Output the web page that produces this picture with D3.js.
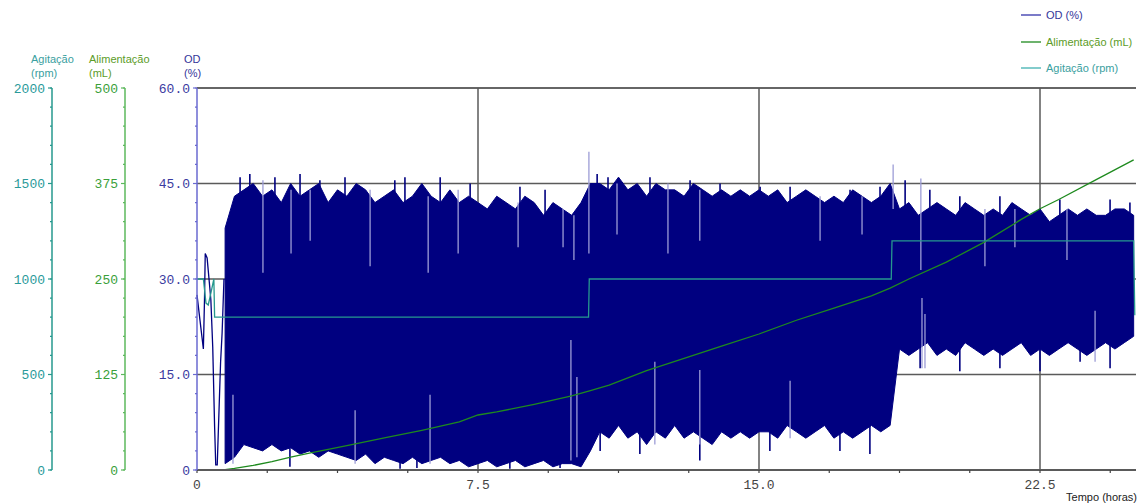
<!DOCTYPE html>
<html><head><meta charset="utf-8">
<script src="https://cdn.jsdelivr.net/npm/d3@7"></script>
<style>html,body{margin:0;padding:0;background:#fff;overflow:hidden}</style>
</head><body>
<svg id="c" width="1141" height="503"></svg>
<script>
// ---------- DATA ----------
// Time ticks (horas)
const timeTicks = [0, 7.5, 15, 22.5];
const timeTickLabels = ["0", "7.5", "15.0", "22.5"];
const odTicks = [0, 15, 30, 45, 60];
const odTickLabels = ["0", "15.0", "30.0", "45.0", "60.0"];
const agitTicks = [0, 500, 1000, 1500, 2000];
const feedTicks = [0, 125, 250, 375, 500];

// OD (%) start-up transient
const odStartTimes  = [0, 0.08, 0.17, 0.2, 0.22, 0.27, 0.33, 0.37, 0.42, 0.47, 0.5, 0.54, 0.63, 0.67, 0.72];
const odStartValues = [27.5, 23.5, 19, 26.7, 34, 33.3, 29.4, 26.7, 19.3, 6.8, 0.8, 0.8, 17, 21.5, 30];

// OD (%) oscillation envelope, sampled every 0.25 h from 0.75 h to 25 h
const odEnvStart = 0.75, odEnvStep = 0.25;
const odHigh = [38, 43,
  44,45,43,44,42,45,43,44,45,42,44,43,45,44,42,43,44,42,43,45,43,42,44,42,43,42,41,43,42,41,43,42,40,42,41,40,42,45,
  45,44,46,44,45,43,45,44,44,43,45,44,43,44,43,44,43,44,
  43,44,42,43,44,43,42,43,42,44,43,42,43,45,
  41,42,40,41,42,41,40,42,41,40,41,40,42,41,40,41,39,40,41,40,41,40,40,41,41,40];
const odLow = [1, 2,
  4,3.5,3,4,3,3.5,2.5,3,2,3,2.5,2,1.5,2.5,1,2,1.5,1,2,1,1.5,2,1,1.5,0.5,1,1.5,0.5,1,1.5,0.5,1,1.5,0.5,1,1,0.5,3,
  6,5,7,5,6,4,6,5,7,5,6,5,4,6,5,6,5,6,
  6,5,7,6,5,6,7,5,6,5,6,7,6,7,
  19,18,19,20,18,19,18,20,19,18,19,18,19,20,18,19,18,19,20,19,18,19,20,19,20,21];
// Highest / lowest individual OD excursions: [time, value]
const odPeaksTop = [[1.15,46],[1.41,46.5],[2.08,46],[2.75,46.5],[3.28,45.5],[3.95,46],[5.28,45.5],[5.55,46],
  [6.49,46],[7.29,45],[8.62,44.5],[9.29,44],[10.68,46.5],[10.97,46],[12.09,46],[13.16,45.5],[13.96,45],
  [15.03,44.5],[15.83,44.5],[17.43,44],[18.23,44.5],[18.9,45.5],[19.56,44],[20.36,43],[21.43,43],
  [23.03,42.5],[24.37,42.5],[24.9,42]];
const odPeaksBottom = [[2.48,0.5],[5.42,0.2],[5.87,0.3],[8.35,0.2],[9.69,0.3],[10.76,3],[11.82,2.5],
  [13.42,1.5],[15.29,3],[17.16,3],[17.96,2.5],[19.3,16],[20.36,15.5],[21.43,16],[22.5,15.5],[23.57,17],[24.37,16]];
// Light spikes / gaps in the OD trace: [time, low, high]
const odSpikes = [
  [1.76,31,45.5],[2.51,34,44],[3.02,36,44],[4.62,32,44],[6.17,31,43],[6.97,34,44],[8.57,35,42],
  [9.77,35,41],[10.06,33,40],[10.46,34,50],[11.21,37,45],[12.57,34,45],[13.42,36,44],[16.63,36,43],
  [17.75,37,43],[18.58,41,48],[19.32,31.4,45.8],[21.03,32,41],[21.83,35,41],[23.22,33,41],
  [0.96,1,11.8],[4.22,1,9.4],[6.22,1,11.8],[9.98,1.5,20.4],[10.14,2,14.6],[12.22,4,17],
  [13.42,4,15.7],[15.83,5,14],[19.35,16,27],[19.43,16,24.5],[23.97,17,25]];

// Alimentação (mL)
const feedTimes  = [0, 0.7, 1, 1.5, 2, 2.5, 3, 3.5, 4, 5, 6, 7, 7.5, 8, 9, 10, 10.5, 11, 12, 13, 14, 15, 16, 17, 18, 18.5, 19, 20, 21, 22, 22.5, 23, 24, 25];
const feedValues = [0, 0, 2, 6, 11, 17, 22, 27, 32, 42, 52, 63, 72, 76, 86, 97, 104, 111, 130, 146, 162, 178, 196, 212, 228, 238, 250, 272, 298, 328, 342, 354, 380, 406];

// Agitação (rpm)
const agitTimes  = [0, 0.17, 0.24, 0.3, 0.37, 0.45, 0.47, 10.45, 10.47, 18.53, 18.55, 25.0, 25.03];
const agitValues = [1000, 1000, 874, 864, 926, 1000, 800, 800, 1000, 1000, 1200, 1200, 810];

// Legend
const legendLabels = ["OD (%)", "Alimentação (mL)", "Agitação (rpm)"];

// ---------- CHART ----------
const svg = d3.select("#c");
const C = {od:"#000080", odText:"#34349a", feed:"#1e8a1e", feedText:"#5c9c28", feedAxis:"#5cb85c",
           agit:"#26988e", agitText:"#3aa0a0", grid:"#5a5a5a", spike:"#9c9cd6"};
const pLeft = 197, pRight = 1136, pTop = 88, pBottom = 470;
const x = d3.scaleLinear().domain([0, (pRight-pLeft)/(281/7.5)]).range([pLeft, pRight]);
const yOD = d3.scaleLinear().domain([0,60]).range([pBottom, pTop]);
const yAg = d3.scaleLinear().domain([0,2000]).range([pBottom, pTop]);
const yFd = d3.scaleLinear().domain([0,500]).range([pBottom, pTop]);
const mono = "'Liberation Mono','Courier New',monospace";
const sans = "'Liberation Sans',Arial,sans-serif";

// grid
const g = svg.append("g");
g.selectAll(".hg").data(odTicks.slice(1)).join("line")
  .attr("x1", pLeft).attr("x2", pRight).attr("y1", d=>yOD(d)).attr("y2", d=>yOD(d))
  .attr("stroke", d=>d===60?"#333":C.grid).attr("stroke-width",1.5);
g.selectAll(".vg").data(timeTicks.slice(1)).join("line")
  .attr("x1", d=>x(d)).attr("x2", d=>x(d)).attr("y1", pTop).attr("y2", pBottom)
  .attr("stroke", C.grid).attr("stroke-width",1.5);

// OD envelope area
const env = odHigh.map((h,i)=>({t: odEnvStart + i*odEnvStep, hi:h, lo:odLow[i]}));
const envT = env.map(d=>d.t);
const hiAt = d3.scaleLinear().domain(envT).range(odHigh);
const loAt = d3.scaleLinear().domain(envT).range(odLow);
svg.append("path").datum(env)
  .attr("d", d3.area().x(d=>x(d.t)).y0(d=>yOD(d.lo)).y1(d=>yOD(d.hi)))
  .attr("fill", C.od).attr("stroke", C.od).attr("stroke-width", 1);
// navy excursions
svg.selectAll(".pt").data(odPeaksTop).join("line")
  .attr("x1", d=>x(d[0])).attr("x2", d=>x(d[0])).attr("y1", d=>yOD(d[1])).attr("y2", d=>yOD(hiAt(d[0])-1))
  .attr("stroke", C.od).attr("stroke-width", 1.6);
svg.selectAll(".pb").data(odPeaksBottom).join("line")
  .attr("x1", d=>x(d[0])).attr("x2", d=>x(d[0])).attr("y1", d=>yOD(d[1])).attr("y2", d=>yOD(loAt(d[0])+1))
  .attr("stroke", C.od).attr("stroke-width", 1.6);
// light spikes
svg.selectAll(".sp").data(odSpikes).join("line")
  .attr("x1", d=>x(d[0])).attr("x2", d=>x(d[0])).attr("y1", d=>yOD(d[1])).attr("y2", d=>yOD(d[2]))
  .attr("stroke", C.spike).attr("stroke-width", 1.3);
// OD start
svg.append("path").datum(odStartTimes.map((t,i)=>[t, odStartValues[i]]))
  .attr("d", d3.line().x(d=>x(d[0])).y(d=>yOD(d[1])))
  .attr("fill","none").attr("stroke", C.od).attr("stroke-width",1.3);

// Feed
svg.append("path").datum(feedTimes.map((t,i)=>[t, feedValues[i]]))
  .attr("d", d3.line().x(d=>x(d[0])).y(d=>yFd(d[1])))
  .attr("fill","none").attr("stroke", C.feed).attr("stroke-width",1.3);
// Agitation
svg.append("path").datum(agitTimes.map((t,i)=>[t, agitValues[i]]))
  .attr("d", d3.line().x(d=>x(d[0])).y(d=>yAg(d[1])))
  .attr("fill","none").attr("stroke", C.agit).attr("stroke-width",1.3);

// X axis
svg.append("line").attr("x1",pLeft).attr("x2",pRight).attr("y1",pBottom).attr("y2",pBottom)
  .attr("stroke","#5a5a5a").attr("stroke-width",2);
const xMinor = d3.range(0, 25.1, 1.875);
svg.selectAll(".xm").data(xMinor).join("line")
  .attr("x1", d=>x(d)).attr("x2", d=>x(d)).attr("y1", pBottom).attr("y2", pBottom+3)
  .attr("stroke","#444").attr("stroke-width",1.2);
svg.selectAll(".xl").data(timeTicks).join("text")
  .attr("x", d=>x(d)).attr("y", pBottom+19).attr("text-anchor","middle")
  .attr("font-family", mono).attr("font-size",13).attr("fill","#444")
  .text((d,i)=>timeTickLabels[i]);
svg.append("text").attr("x",1137).attr("y",501).attr("text-anchor","end")
  .attr("font-family",sans).attr("font-size",11).attr("fill","#222").text("Tempo (horas)");

// Y axes
function yAxis(xPos, scale, ticks, labels, minorStep, axisColor, labelColor) {
  const a = svg.append("g");
  a.append("line").attr("x1",xPos).attr("x2",xPos).attr("y1",pTop).attr("y2",pBottom)
    .attr("stroke",axisColor).attr("stroke-width",1.5);
  const dom = scale.domain();
  a.selectAll(".m").data(d3.range(dom[0], dom[1]+minorStep/2, minorStep)).join("line")
    .attr("x1",xPos-2).attr("x2",xPos).attr("y1",d=>scale(d)).attr("y2",d=>scale(d))
    .attr("stroke",axisColor).attr("stroke-width",1.2);
  a.selectAll(".M").data(ticks).join("line")
    .attr("x1",xPos-4).attr("x2",xPos).attr("y1",d=>scale(d)).attr("y2",d=>scale(d))
    .attr("stroke",axisColor).attr("stroke-width",1.2);
  a.selectAll(".t").data(ticks).join("text")
    .attr("x",xPos-7).attr("y",d=>scale(d)+4.5).attr("text-anchor","end")
    .attr("font-family",mono).attr("font-size",13).attr("fill",labelColor)
    .text((d,i)=>labels[i]);
}
yAxis(52, yAg, agitTicks, agitTicks.map(String), 100, C.agit, "#2a9a9a");
yAxis(125, yFd, feedTicks, feedTicks.map(String), 25, C.feedAxis, "#3aa03a");
yAxis(pLeft, yOD, odTicks, odTickLabels, 3, "#6a6ad0", "#3a3aa0");

// Axis titles
const titles = [["Agitação","(rpm)",31,C.agitText],["Alimentação","(mL)",89,C.feedText],["OD","(%)",184,C.odText]];
titles.forEach(t=>{
  svg.append("text").attr("x",t[2]).attr("y",63).attr("font-family",sans).attr("font-size",11).attr("fill",t[3]).text(t[0]);
  svg.append("text").attr("x",t[2]).attr("y",77).attr("font-family",sans).attr("font-size",11).attr("fill",t[3]).text(t[1]);
});

// Legend
const legColors = ["#3333aa", C.feed, "#40b0b0"];
const legText = [C.odText, C.feedText, C.agitText];
const legY = [15, 42, 68];
legendLabels.forEach((lab,i)=>{
  svg.append("line").attr("x1",1021).attr("x2",1041).attr("y1",legY[i]).attr("y2",legY[i])
    .attr("stroke",legColors[i]).attr("stroke-width",1.3);
  svg.append("text").attr("x",1046).attr("y",legY[i]+4).attr("font-family",sans).attr("font-size",11)
    .attr("fill",legText[i]).text(lab);
});
</script>
</body></html>
